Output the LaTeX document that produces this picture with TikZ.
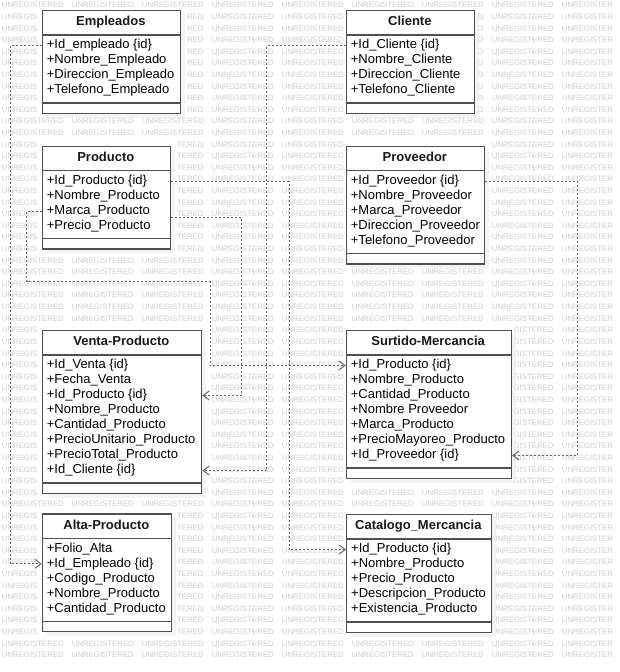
\documentclass[tikz,border=0pt]{standalone}
\usepackage{fontspec}
\setmainfont{Liberation Sans}
\usetikzlibrary{arrows.meta,calc}
\definecolor{wm}{HTML}{CDCDCD}
\definecolor{edgecol}{HTML}{505050}
\definecolor{linkcol}{HTML}{666666}
\tikzset{
  attr/.style={anchor=west, inner sep=0pt, text height=9.5pt, text depth=3pt,
    font=\fontsize{13}{15}\selectfont, text=black},
  ttl/.style={inner sep=0pt, text height=9.5pt, text depth=3pt,
    font=\bfseries\fontsize{13}{15}\selectfont, text=black!90},
  frame/.style={draw=edgecol, line width=1.4pt},
  shadowbox/.style={fill=black!6, fill opacity=0.75},
  dep/.style={draw=linkcol, line width=1pt, dash pattern=on 2pt off 2pt,
    -{Straight Barb[length=6pt,width=9pt]}},
  wmtext/.style={text=wm, font=\fontsize{7.8}{8}\selectfont, inner sep=0pt,
    text height=5.6pt, text depth=0pt, anchor=west},
}
% #1 name, #2 left, #3 top, #4 width, #5 title, #6 attributes
\newcommand{\umlclass}[6]{%
  \xdef\nrows{0}%
  \foreach \attrtxt [count=\i] in {#6}{\xdef\nrows{\i}}%
  \pgfmathsetmacro\attrline{#3+25+\nrows*15+8}%
  \pgfmathsetmacro\boxbottom{\attrline+9.5}%
  \pgfmathsetmacro\hgt{\boxbottom-#3}%
  \fill[shadowbox] (#2+5,#3+5) rectangle (#2+#4+5,\boxbottom+5);
  \node[frame, fill=white, anchor=north west, minimum width=#4pt,
        minimum height=\hgt pt, inner sep=0pt] (#1) at (#2,#3) {};
  \node[ttl] (#1-t) at (#2+#4/2,#3+12.5) {#5};
  \draw[frame] (#2,#3+25) -- ++(#4,0);
  \draw[frame] (#2,\attrline) -- ++(#4,0);
  \foreach \attrtxt [count=\i] in {#6}{%
    \node[attr] (#1-\i) at (#2+5,#3+25+10.5+\i*15-15) {\attrtxt};}%
}
% watermark cell: visible part only (boxes hide the rest)
\def\modefull{full}\def\modepre{pre}\def\modesuf{suf}
\newcommand{\wmcell}[3]{% #1 x0, #2 y centre, #3 name
  \gdef\wmmode{full}\gdef\wmav{0}%
  \foreach \bl/\bt/\br/\bb in {40.7/9/181/113.5, 344.7/9/475/113.5,
      40.7/144.7/171/249.2, 344.7/144.7/485/264.2, 40.7/329/202/493.5,
      344.7/329/511.7/478.5, 40.7/512.3/172/631.8, 345/513/491.7/632.5}{%
    \pgfmathtruncatemacro\hit{(#2+3.5>\bt) && (#2-3.5<\bb) && (#1+62>\bl) && (#1<\br)}%
    \ifnum\hit=1
      \pgfmathtruncatemacro\inside{(#1>=\bl) && (#1+62<=\br)}%
      \ifnum\inside=1 \gdef\wmmode{skip}%
      \else
        \pgfmathtruncatemacro\lefty{#1<\bl}%
        \ifnum\lefty=1 \gdef\wmmode{pre}\pgfmathsetmacro\av{\bl-#1}\xdef\wmav{\av}%
        \else \gdef\wmmode{suf}\pgfmathsetmacro\av{#1+62-\br}\xdef\wmav{\av}\fi
      \fi
    \fi}%
  \ifx\wmmode\modefull
    \pgfmathtruncatemacro\edgecut{#1+62>619}%
    \ifnum\edgecut=1 \gdef\wmmode{pre}\pgfmathsetmacro\av{619-#1}\xdef\wmav{\av}\fi
  \fi
  \gdef\wmstr{}%
  \ifx\wmmode\modefull \node[wmtext] (#3) at (#1,#2) {UNREGISTERED};\fi
  \ifx\wmmode\modepre
    \foreach \wmw/\wms in {5.63/U,11.26/UN,16.9/UNR,22.1/UNRE,28.2/UNREG,30.3/UNREGI,
        35.5/UNREGIS,40.3/UNREGIST,45.5/UNREGISTE,51.1/UNREGISTER,56.3/UNREGISTERE}{%
      \pgfmathtruncatemacro\fits{\wmw<=\wmav-1.5}\ifnum\fits=1 \xdef\wmstr{\wms}\fi}%
    \ifx\wmstr\empty\else \node[wmtext] (#3) at (#1,#2) {\wmstr};\fi
  \fi
  \ifx\wmmode\modesuf
    \foreach \wmw/\wms in {5.63/D,10.8/ED,16.5/RED,21.7/ERED,26.4/TERED,31.6/STERED,
        33.8/ISTERED,39.9/GISTERED,45.1/EGISTERED,50.7/REGISTERED,56.3/NREGISTERED}{%
      \pgfmathtruncatemacro\fits{\wmw<=\wmav-1.5}\ifnum\fits=1 \xdef\wmstr{\wms}\fi}%
    \ifx\wmstr\empty\else \node[wmtext, anchor=east] (#3) at (#1+62,#2) {\wmstr};\fi
  \fi
}
\begin{document}
\begin{tikzpicture}[x=1pt,y=-1pt]
\useasboundingbox (0,0) rectangle (619,672);
\fill[white] (0,0) rectangle (619,672);
\clip (0,0) rectangle (619,672);
% watermark
\foreach \r in {0,...,56}{\foreach \c in {0,...,8}{%
  \pgfmathsetmacro\wx{1.7+70*\c}\pgfmathsetmacro\wy{5+\r*11.607}%
  \wmcell{\wx}{\wy}{wm-\r-\c}}}

\umlclass{emp}{41.7}{10}{138.3}{Empleados}{+Id\_empleado \{id\},+Nombre\_Empleado,+Direccion\_Empleado,+Telefono\_Empleado}
\umlclass{cli}{345.7}{10}{128.3}{Cliente}{+Id\_Cliente \{id\},+Nombre\_Cliente,+Direccion\_Cliente,+Telefono\_Cliente}
\umlclass{pro}{41.7}{145.7}{128.3}{Producto}{+Id\_Producto \{id\},+Nombre\_Producto,+Marca\_Producto,+Precio\_Producto}
\umlclass{prv}{345.7}{145.7}{138.3}{Proveedor}{+Id\_Proveedor \{id\},+Nombre\_Proveedor,+Marca\_Proveedor,+Direccion\_Proveedor,+Telefono\_Proveedor}
\umlclass{ven}{41.7}{330}{159.3}{Venta-Producto}{+Id\_Venta \{id\},+Fecha\_Venta,+Id\_Producto \{id\},+Nombre\_Producto,+Cantidad\_Producto,+PrecioUnitario\_Producto,+PrecioTotal\_Producto,+Id\_Cliente \{id\}}
\umlclass{sur}{345.7}{330}{165}{Surtido-Mercancia}{+Id\_Producto \{id\},+Nombre\_Producto,+Cantidad\_Producto,+Nombre Proveedor,+Marca\_Producto,+PrecioMayoreo\_Producto,+Id\_Proveedor \{id\}}
\umlclass{alt}{41.7}{513.3}{129.3}{Alta-Producto}{+Folio\_Alta,+Id\_Empleado \{id\},+Codigo\_Producto,+Nombre\_Producto,+Cantidad\_Producto}
\umlclass{cat}{346}{514}{144.7}{Catalogo\_Mercancia}{+Id\_Producto \{id\},+Nombre\_Producto,+Precio\_Producto,+Descripcion\_Producto,+Existencia\_Producto}

% routing lanes
\coordinate (lA) at (10,0);
\coordinate (lB) at (266.7,0);
\coordinate (bC) at (26.7,281.7);
\coordinate (bD) at (210,281.7);
\coordinate (lE) at (241.7,0);
\coordinate (lF) at (289,0);
\coordinate (lG) at (577.7,0);
\coordinate (pe) at ($(pro.east |- pro-3)+(0,6)$);

\draw[dep] (emp.west |- emp-1) -- (lA |- emp-1) -- (lA |- alt-2) -- (alt.west |- alt-2);
\draw[dep] (cli.west |- cli-1) -- (lB |- cli-1) -- (lB |- ven-8) -- (ven.east |- ven-8);
\draw[dep] (pro.west |- pro-3) -- (bC |- pro-3) -- (bC) -- (bD) -- (bD |- sur-1) -- (sur.west |- sur-1);
\draw[dep] (pe) -- (lE |- pe) -- (lE |- ven-3) -- (ven.east |- ven-3);
\draw[dep] (pro.east |- pro-1) -- (lF |- pro-1) -- (lF |- cat-1) -- (cat.west |- cat-1);
\draw[dep] (prv.east |- prv-1) -- (lG |- prv-1) -- (lG |- sur-7) -- (sur.east |- sur-7);
\end{tikzpicture}
\end{document}
